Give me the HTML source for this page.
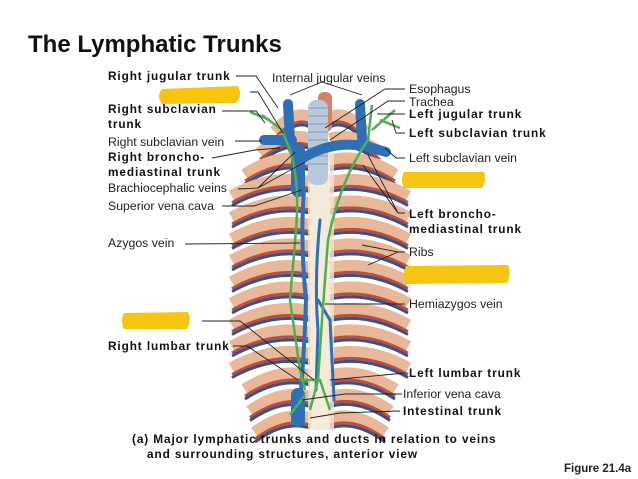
<!DOCTYPE html>
<html><head><meta charset="utf-8"><style>
body{margin:0;background:#fff;width:638px;height:479px;overflow:hidden;font-family:"Liberation Sans",sans-serif}
svg{position:absolute;left:0;top:0}
text{font-family:"Liberation Sans",sans-serif;font-size:12.3px;fill:#222}
.b{font-weight:bold;font-size:11.8px;letter-spacing:0.9px;fill:#111}
</style></head><body>
<svg id="s" width="638" height="479" viewBox="0 0 638 479">
<text x="28" y="52" style="font-size:24px;font-weight:bold;fill:#111">The Lymphatic Trunks</text>
<g id="ribs"></g>
<rect x="308" y="150" width="26" height="280" fill="#f2e6d0" opacity="0.8"/>
<rect x="318" y="92" width="14" height="40" rx="6" fill="#d08470"/>
<rect x="308" y="100" width="20" height="85" rx="8" fill="#b9c8dc"/>
<g stroke="#8fa3c0" stroke-width="1.2"><line x1="308" y1="108" x2="328" y2="108"/><line x1="308" y1="116" x2="328" y2="116"/><line x1="308" y1="124" x2="328" y2="124"/><line x1="308" y1="132" x2="328" y2="132"/><line x1="308" y1="140" x2="328" y2="140"/><line x1="308" y1="148" x2="328" y2="148"/><line x1="308" y1="156" x2="328" y2="156"/><line x1="308" y1="164" x2="328" y2="164"/></g>
<g fill="none" stroke="#2f6fb5" stroke-linecap="round">
<path d="M288 104 L290 140 Q292 152 300 156" stroke-width="10"/>
<path d="M264 140 L292 140" stroke-width="10"/>
<path d="M360 104 L362 138 Q364 146 372 148 L386 152" stroke-width="10"/>
<path d="M364 146 Q330 140 300 160" stroke-width="10"/>
<path d="M298 150 L298 190" stroke-width="14"/>
<path d="M304 190 Q300 240 306 300 Q304 360 300 400" stroke-width="4"/>
<path d="M320 220 Q314 280 318 330 L316 390" stroke-width="3"/>
<path d="M318 300 L330 320 L334 400" stroke-width="3"/>
<path d="M298 395 L298 420" stroke-width="14"/>
</g>
<g fill="none" stroke="#4caf50" stroke-width="2.5">
<path d="M262 115 L282 130 L290 150 Q300 180 296 230 L290 300 L300 370 L305 390"/>
<path d="M372 105 L368 140 Q340 180 328 240 L322 320 L318 380 L310 410"/>
<path d="M380 120 L400 128 M372 130 L395 110 M270 120 L250 112"/>
<path d="M300 380 L320 380 L330 410 M305 395 L290 415"/>
</g>
<g fill="#f7c40f">
<path d="M162 89 L238 86 Q243 95 236 103 L162 104 Q156 96 162 89Z"/>
<path d="M404 172 L484 172 Q487 180 482 188 L404 188 Q400 180 404 172Z"/>
<path d="M406 266 L508 265 Q512 274 507 283 L406 284 Q402 275 406 266Z"/>
<path d="M124 313 L188 312 Q192 320 187 329 L124 329 Q120 321 124 313Z"/>
</g>
<g fill="none" stroke="#222" stroke-width="0.9">
<path d="M236 76 L256 76 L278 108"/>
<path d="M250 92 L258 92 L283 133"/>
<path d="M222 111 L256 111 L265 123"/>
<path d="M235 141 L262 141"/>
<path d="M212 158 L255 150 L280 148"/>
<path d="M238 189 L258 188 L295 152 M258 188 L305 162"/>
<path d="M222 206 L254 206 L302 190"/>
<path d="M185 244 L300 243"/>
<path d="M202 321 L240 321 L314 380"/>
<path d="M233 346 L247 346 L298 380"/>
<path d="M290 95 L322 82 L362 95"/>
<path d="M405 89 L385 89 L325 128"/>
<path d="M405 101 L388 101 L330 140"/>
<path d="M405 114 L377 114"/>
<path d="M405 133 L396 133 L392 120"/>
<path d="M405 158 L396 158 L385 148"/>
<path d="M405 213 L398 213 L368 155 M398 213 L363 165"/>
<path d="M405 252 L398 252 L362 245 M398 252 L368 265"/>
<path d="M405 304 L325 304"/>
<path d="M405 373 L330 380"/>
<path d="M402 394 L345 394 L302 400"/>
<path d="M400 411 L340 413 L310 418"/>
</g>
<text x="108" y="80" class="b">Right jugular trunk</text>
<text x="108" y="113" class="b">Right subclavian</text>
<text x="108" y="128" class="b">trunk</text>
<text x="108" y="146">Right subclavian vein</text>
<text x="108" y="161" class="b">Right broncho-</text>
<text x="108" y="176" class="b">mediastinal trunk</text>
<text x="108" y="192">Brachiocephalic veins</text>
<text x="108" y="210">Superior vena cava</text>
<text x="108" y="247">Azygos vein</text>
<text x="108" y="350" class="b">Right lumbar trunk</text>
<text x="272" y="82">Internal jugular veins</text>
<text x="409" y="93">Esophagus</text>
<text x="409" y="106">Trachea</text>
<text x="409" y="118" class="b">Left jugular trunk</text>
<text x="409" y="137" class="b">Left subclavian trunk</text>
<text x="409" y="162">Left subclavian vein</text>
<text x="409" y="218" class="b">Left broncho-</text>
<text x="409" y="233" class="b">mediastinal trunk</text>
<text x="409" y="256">Ribs</text>
<text x="409" y="308">Hemiazygos vein</text>
<text x="409" y="377" class="b">Left lumbar trunk</text>
<text x="403" y="398">Inferior vena cava</text>
<text x="403" y="415" class="b">Intestinal trunk</text>
<text x="132" y="443" class="b">(a) Major lymphatic trunks and ducts in relation to veins</text>
<text x="147" y="458" class="b">and surrounding structures, anterior view</text>
<text x="564" y="472" style="font-weight:bold;font-size:11.5px">Figure 21.4a</text>
</svg>
<script>
var g=document.getElementById('ribs'),h='';
for(var i=0;i<15;i++){var y=118+i*21.5;var w=i<3?45+i*15:(i>11?80-(i-11)*5:88);
[-1,1].forEach(function(d){var x0=320+d*10,x1=320+d*w,xm=320+d*w*0.55;
h+='<path d="M'+x0+' '+y+' Q'+xm+' '+(y-8)+' '+x1+' '+(y+14)+'" stroke="#e9b899" stroke-width="13" fill="none"/>';
h+='<path d="M'+x0+' '+(y+6)+' Q'+xm+' '+(y-2)+' '+x1+' '+(y+20)+'" stroke="#b8503c" stroke-width="3" fill="none"/>';
h+='<path d="M'+x0+' '+(y+9)+' Q'+xm+' '+(y+1)+' '+x1+' '+(y+23)+'" stroke="#3c4f86" stroke-width="3" fill="none"/>';});}
g.innerHTML=h;
</script>
</body></html>
